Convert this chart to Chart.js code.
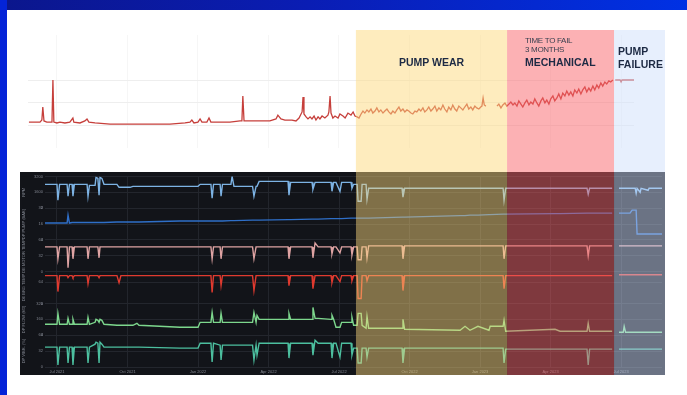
<!DOCTYPE html>
<html>
<head>
<meta charset="utf-8">
<script src="https://cdn.jsdelivr.net/npm/chart.js@4.4.1/dist/chart.umd.min.js"></script>
<style>
  html, body { margin: 0; padding: 0; }
  body { width: 687px; height: 395px; position: relative; overflow: hidden; background: #fff; font-family: "Liberation Sans", Arial, sans-serif; }
  #topBar { position: absolute; left: 0; top: 0; width: 687px; height: 10px; background: linear-gradient(90deg, #0b168c 0%, #0a1db4 45%, #0031e4 100%); }
  #leftBar { position: absolute; left: 0; top: 0; width: 7px; height: 395px; background: #0424d8; }
  #topWrap { position: absolute; left: 20px; top: 30px; width: 645px; height: 142px; }
  #bottomWrap { position: absolute; left: 20px; top: 172px; width: 645px; height: 203px; background: #121419; }
  .big { position: absolute; color: #1d2a44; font-weight: bold; font-size: 10.5px; line-height: 1; white-space: nowrap; }
  .small { position: absolute; color: #3a4150; font-size: 8px; line-height: 1; letter-spacing: -0.3px; white-space: nowrap; }
</style>
</head>
<body>
<div id="topBar"></div>
<div id="leftBar"></div>
<div id="topWrap"><canvas id="topChart"></canvas></div>
<div id="bottomWrap"><canvas id="bottomChart"></canvas></div>

<div class="big" style="left:356px; width:151px; text-align:center; top:57px;">PUMP WEAR</div>
<div class="small" style="left:525px; top:37px;">TIME TO FAIL</div>
<div class="small" style="left:525px; top:46px;">3 MONTHS</div>
<div class="big" style="left:525px; top:57px;">MECHANICAL</div>
<div class="big" style="left:618px; top:46px;">PUMP</div>
<div class="big" style="left:618px; top:59px;">FAILURE</div>

<script>
// x unit: months from Jul 2021
const quarterLabels = ['Jul 2021', 'Oct 2021', 'Jan 2022', 'Apr 2022', 'Jul 2022', 'Oct 2022', 'Jan 2023', 'Apr 2023', 'Jul 2023'];

// phases (months)
const phaseNames = ['Pump wear', 'Mechanical', 'Pump failure'];
const phaseStart = [12.72, 19.15, 23.70];
const phaseEnd = [19.15, 23.70, 25.87];

// top trend (month, level)
const topTrend = [
  [-1.19, 1.13], [-0.72, 1.13], [-0.64, 1.22], [-0.60, 1.8], [-0.55, 1.18], [-0.43, 1.13], [-0.21, 1.13], [-0.17, 3.0], [-0.13, 1.13], [0, 1.09],
  [0.13, 1.13], [0.34, 1.09], [0.55, 1.13], [0.68, 1.31], [0.72, 1.13], [0.98, 1.09], [1.19, 1.18], [1.28, 1.27], [1.36, 1.13], [1.62, 1.09],
  [2.26, 1.04], [3.11, 1.04], [3.96, 1.04], [4.81, 1.04], [5.45, 1.09], [5.66, 1.13], [5.74, 1.22], [5.83, 1.09], [6.00, 1.13], [6.09, 1.27],
  [6.17, 1.13], [6.38, 1.13], [6.47, 1.31], [6.55, 1.13], [6.94, 1.13], [7.36, 1.13], [7.79, 1.18], [7.87, 1.18], [7.91, 2.29], [7.96, 1.18],
  [8.21, 1.18], [8.64, 1.18], [9.06, 1.18], [9.32, 1.27], [9.40, 1.44], [9.53, 1.27], [9.70, 1.22], [10.00, 1.22], [10.17, 1.18], [10.30, 1.31],
  [10.43, 1.58], [10.47, 2.24], [10.51, 1.49], [10.60, 1.36], [10.68, 1.27], [10.77, 1.36], [10.85, 1.27], [10.94, 1.40], [11.02, 1.22], [11.11, 1.36],
  [11.19, 1.27], [11.28, 1.40], [11.40, 1.31], [11.53, 1.44], [11.57, 1.58], [11.62, 2.29], [11.66, 1.53], [11.74, 1.31], [11.83, 1.40], [11.96, 1.31],
  [12.04, 1.49], [12.17, 1.40], [12.26, 1.31], [12.38, 1.53], [12.51, 1.44], [12.60, 1.58], [12.68, 1.40], [12.77, 1.36], [12.85, 1.31], [12.94, 1.49],
  [13.02, 1.62], [13.10, 1.53], [13.19, 1.67], [13.27, 1.58], [13.36, 1.71], [13.44, 1.53], [13.53, 1.62], [13.61, 1.76], [13.70, 1.58], [13.78, 1.67],
  [13.87, 1.53], [13.95, 1.62], [14.04, 1.71], [14.12, 1.58], [14.21, 1.49], [14.29, 1.62], [14.38, 1.53], [14.46, 1.67], [14.55, 1.80], [14.63, 1.62],
  [14.72, 1.71], [14.80, 1.58], [14.89, 1.67], [14.97, 1.62], [15.06, 1.53], [15.14, 1.49], [15.23, 1.62], [15.31, 1.58], [15.40, 1.71], [15.48, 1.62],
  [15.57, 1.76], [15.65, 1.58], [15.74, 1.67], [15.82, 1.80], [15.91, 1.62], [15.99, 1.71], [16.08, 1.84], [16.16, 1.62], [16.25, 1.76], [16.33, 1.67],
  [16.42, 1.89], [16.50, 1.71], [16.59, 1.58], [16.67, 1.80], [16.76, 1.67], [16.84, 1.89], [16.93, 1.71], [17.01, 1.62], [17.10, 1.84], [17.18, 1.76],
  [17.27, 1.67], [17.35, 1.80], [17.44, 1.93], [17.52, 1.71], [17.61, 1.80], [17.69, 1.67], [17.78, 1.84], [17.86, 1.76], [17.95, 1.71], [18.03, 1.80],
  [18.08, 1.84], [18.13, 2.20], [18.18, 1.89], [18.25, 1.84], [18.50, null], [18.72, 1.84], [18.80, 1.93], [18.89, 1.76], [18.97, 1.89], [19.06, 1.98],
  [19.14, 1.84], [19.23, 1.93], [19.31, 2.02], [19.40, 1.89], [19.48, 1.98], [19.57, 1.84], [19.65, 2.07], [19.74, 1.93], [19.82, 1.80], [19.91, 1.98],
  [19.99, 2.11], [20.08, 1.89], [20.16, 2.02], [20.25, 1.93], [20.33, 2.16], [20.42, 1.98], [20.50, 1.84], [20.59, 2.07], [20.67, 2.20], [20.76, 1.98],
  [20.84, 2.11], [20.93, 1.93], [21.01, 2.16], [21.10, 2.29], [21.18, 2.07], [21.27, 2.20], [21.35, 2.38], [21.44, 2.16], [21.52, 2.42], [21.61, 2.29],
  [21.69, 2.51], [21.78, 2.33], [21.86, 2.47], [21.95, 2.29], [22.03, 2.56], [22.12, 2.42], [22.20, 2.60], [22.29, 2.38], [22.37, 2.56], [22.46, 2.69],
  [22.54, 2.47], [22.63, 2.64], [22.71, 2.51], [22.80, 2.73], [22.88, 2.56], [22.97, 2.78], [23.05, 2.64], [23.14, 2.87], [23.22, 2.73], [23.31, 2.91],
  [23.39, 2.82], [23.48, 2.96], [23.56, 2.91], [23.65, 3.0], [23.68, null], [23.75, 3.0], [23.96, 3.0], [24.00, 2.91], [24.04, 3.0], [24.55, 3.0]
];

// bottom panel: shared sample times (months)
const t = [
  -0.51, 0, 0.04, 0.11, 0.43, 0.47, 0.53, 0.64, 0.68, 0.74,
  1.28, 1.32, 1.38, 1.62, 1.66, 1.74, 1.79, 1.83, 1.91, 2.00,
  2.55, 2.64, 2.72, 3.11, 3.23, 3.40, 3.49, 5.23, 6.00, 6.09,
  6.55, 6.60, 6.66, 6.94, 6.98, 7.04, 7.40, 7.45, 7.53, 8.32,
  8.38, 8.47, 8.51, 8.60, 9.83, 9.87, 9.94, 10.85, 10.89, 10.98,
  11.11, 11.66, 11.70, 11.77, 11.87, 12.04, 12.11, 12.51, 12.55, 12.62,
  12.77, 12.81, 12.94, 12.98, 13.15, 13.19, 13.26, 14.68, 14.72, 14.79,
  17.15, 17.36, 17.57, 17.91, 18.38, 18.43, 18.98, 19.02, 19.09, 21.19,
  21.40, 22.55, 22.60, 22.66, 23.62, 23.76, 23.91, 24.09, 24.13, 24.19,
  24.38, 24.47, 24.60, 24.64, 24.68, 24.81, 24.85, 25.15, 25.19, 25.74
];

const speed = [
  2400, 2400, 800, 2400, 2400, 1200, 2400, 2400, 1200, 2400,
  2400, 1200, 2300, 2300, 3100, 3000, 1300, 3100, 3000, 2400,
  2400, 2100, 2100, 2100, 2200, 2200, 2200, 2200, 2200, 2400,
  2400, 1000, 2400, 2400, 1200, 2400, 2400, 3200, 2200, 2200,
  1200, 2200, 2200, 2700, 2700, 1300, 2600, 2600, 1900, 2600,
  2600, 2600, 1700, 2600, 2600, 1700, 2600, 2600, 2000, 2400,
  2400, 700, 700, 2400, 2400, 900, 2000, 2000, 1100, 2000,
  2000, 2000, 2000, 2000, 2000, 2000, 2000, 800, 2000, 2000,
  2000, 2000, 1400, 2000, 2000, null, 2000, 2000, 2000, 2000,
  2000, 2000, 2000, 1500, 2000, 1600, 2000, 1800, 2000, 2000
];

const pressure = [
  17, 17, 17, 17, 17, 25, 17, 17.5, 17.5, 17.5,
  17.5, 17.5, 17.5, 17.5, 17.5, 17.5, 17.5, 17.5, 17.5, 17.5,
  18, 18, 18, 18, 18, 18, 18, 19, 19, 19,
  19, 19, 19, 19, 19, 19, 19.5, 19.5, 19.5, 20,
  20, 20, 20, 20, 20.5, 20.5, 20.5, 21, 21, 21,
  21, 21.5, 21.5, 21.5, 21.5, 21.5, 21.5, 22, 22, 22,
  22, 22, 22, 22, 22, 22, 22, 23, 23, 23,
  24.5, 24.5, 25, 25, 25.5, 25.5, 26, 26, 26, 26.5,
  26.5, 27, 27, 27, 27, null, 27, 27, 27, 27,
  27, 30, 30, 30, 6, 6, 6, 6, 6, 6
];

const motorTemp = [
  50, 50, 26, 50, 50, 8, 50, 50, 26, 50,
  50, 26, 50, 50, 50, 50, 28, 50, 50, 50,
  50, 50, 50, 50, 50, 50, 50, 50, 50, 50,
  50, 26, 50, 50, 26, 50, 50, 50, 50, 50,
  26, 50, 50, 50, 50, 26, 50, 50, 28, 58,
  50, 50, 36, 50, 50, 38, 50, 50, 34, 50,
  50, 24, 24, 50, 50, 28, 52, 52, 26, 52,
  52, 52, 52, 52, 52, 52, 52, 26, 52, 52,
  52, 52, 32, 52, 52, null, 52, 52, 52, 52,
  52, 52, 52, 52, 52, 52, 52, 52, 52, 52
];

const bearingTemp = [
  84, 84, 36, 84, 84, 78, 84, 84, 78, 84,
  84, 60, 84, 84, 84, 84, 78, 84, 84, 84,
  84, 63, 84, 84, 84, 84, 84, 84, 84, 84,
  84, 33, 84, 84, 54, 84, 84, 84, 84, 84,
  39, 84, 84, 84, 84, 54, 84, 84, 45, 84,
  84, 84, 63, 84, 84, 66, 84, 84, 69, 84,
  84, 15, 15, 84, 84, 69, 84, 84, 39, 84,
  84, 84, 84, 84, 84, 84, 84, 45, 84, 84,
  84, 84, 84, 84, 84, null, 87, 87, 87, 87,
  87, 87, 87, 87, 87, 87, 87, 87, 87, 87
];

const flow = [
  110, 110, 220, 110, 110, 170, 110, 110, 160, 110,
  110, 180, 110, 130, 160, 150, 130, 160, 150, 110,
  100, 100, 100, 100, 100, 120, 100, 80, 80, 130,
  130, 230, 130, 130, 220, 130, 130, 130, 130, 130,
  230, 130, 200, 160, 160, 220, 160, 160, 280, 170,
  170, 160, 200, 160, 80, 80, 130, 130, 180, 100,
  100, 220, 220, 100, 70, 190, 70, 70, 160, 60,
  50, 90, 50, 90, 50, 90, 90, 150, 40, 60,
  40, 40, 120, 40, 40, null, 30, 30, 90, 30,
  30, 30, 30, 30, 30, 30, 30, 30, 30, 30
];

const vibration = [
  40, 40, 4, 40, 40, 8, 40, 40, 4, 40,
  40, 8, 40, 46, 50, 48, 8, 50, 46, 40,
  40, 40, 40, 40, 40, 40, 40, 38, 38, 48,
  48, 10, 48, 44, 14, 44, 44, 44, 44, 44,
  14, 44, 24, 48, 48, 18, 48, 48, 24, 54,
  48, 48, 18, 48, 48, 20, 48, 48, 24, 38,
  38, 8, 8, 38, 38, 20, 38, 38, 8, 38,
  38, 38, 38, 38, 38, 38, 38, 8, 36, 36,
  36, 36, 4, 36, 36, null, 36, 36, 36, 36,
  36, 36, 36, 36, 36, 36, 36, 36, 36, 36
];

// band overlay drawn through the x scale
const bandColors = ['rgb(253,217,126)', 'rgb(250,100,105)', 'rgb(208,223,252)'];
const phaseBands = {
    id: 'phaseBands',
    afterDatasetsDraw(chart, args, opts) {
        const xs = chart.scales.x;
        const ctx = chart.ctx;
        ctx.save();
        ctx.globalAlpha = opts.alpha;
        phaseStart.forEach((s, i) => {
            const x0 = xs.getPixelForValue(s);
            const x1 = xs.getPixelForValue(phaseEnd[i]);
            ctx.fillStyle = bandColors[i];
            ctx.fillRect(x0, 0, x1 - x0, chart.height);
        });
        ctx.restore();
    }
};

const isQuarter = v => Math.abs(v / 3 - Math.round(v / 3)) < 1e-6;

// top chart
new Chart(document.getElementById('topChart'), {
    type: 'line',
    data: {
        datasets: [{
            data: topTrend.map(p => ({ x: p[0], y: p[1] })),
            borderColor: '#c63f3b',
            borderWidth: 1.3,
            pointRadius: 0,
            tension: 0,
            spanGaps: false
        }]
    },
    options: {
        responsive: true,
        maintainAspectRatio: false,
        animation: false,
        layout: { padding: { left: 8, right: 31, top: 5, bottom: 24.5 } },
        plugins: { legend: { display: false }, tooltip: { enabled: false }, phaseBands: { alpha: 0.5 } },
        scales: {
            x: {
                type: 'linear', min: -1.23, max: 24.55,
                border: { display: false },
                grid: { drawTicks: false, color: c => isQuarter(c.tick.value) ? '#f6f6f6' : 'rgba(0,0,0,0)' },
                ticks: { display: false, stepSize: 3, includeBounds: false }
            },
            y: {
                min: 0, max: 5,
                border: { display: false },
                grid: { drawTicks: false, color: c => [1, 2, 3].includes(c.tick.value) ? '#eeeeee' : 'rgba(0,0,0,0)' },
                ticks: { display: false, stepSize: 1 }
            }
        }
    },
    plugins: [phaseBands]
});

// bottom chart: six stacked rows
function rowAxis(title, max, step) {
    return {
        type: 'linear', position: 'left', stack: 'rows', stackWeight: 1,
        min: 0, max: max,
        afterFit: a => { a.width = 25; },
        border: { display: false },
        grid: { color: '#23262d', drawTicks: false },
        ticks: { stepSize: step, color: '#80858f', font: { size: 4 }, padding: 2, callback: v => v },
        title: { display: true, text: title, color: '#80858f', font: { size: 4 }, padding: 1 }
    };
}

const rows = [
    { key: 'r1', label: 'RPM', values: speed, color: '#7db3e4', max: 3200, step: 800 },
    { key: 'r2', label: 'DP PUMP (BAR)', values: pressure, color: '#2f6fc8', max: 32, step: 8 },
    { key: 'r3', label: 'DE MOTOR TEMP', values: motorTemp, color: '#dea3a3', max: 64, step: 16 },
    { key: 'r4', label: 'DE BRG TEMP', values: bearingTemp, color: '#df3a2f', max: 96, step: 32 },
    { key: 'r5', label: 'DP FLOW (M3)', values: flow, color: '#7dd78d', max: 320, step: 80 },
    { key: 'r6', label: 'DP VIBR. (%)', values: vibration, color: '#4cbf9f', max: 64, step: 16 }
];

const bottomScales = {
    x: {
        type: 'linear', min: -0.51, max: 25.74,
        afterFit: a => { a.height = 8; },
        border: { display: false },
        grid: { drawTicks: false, color: c => isQuarter(c.tick.value) ? '#22252c' : 'rgba(0,0,0,0)' },
        ticks: {
            stepSize: 3, includeBounds: false, autoSkip: false, maxRotation: 0,
            color: '#80858f', font: { size: 4 }, padding: 2,
            callback: v => isQuarter(v) ? (quarterLabels[Math.round(v / 3)] || '') : ''
        }
    }
};
// last defined row is placed at the top of the stack
rows.slice().reverse().forEach(r => { bottomScales[r.key] = rowAxis(r.label, r.max, r.step); });

new Chart(document.getElementById('bottomChart'), {
    type: 'line',
    data: {
        datasets: rows.map(r => ({
            label: r.label,
            yAxisID: r.key,
            data: t.map((m, i) => ({ x: m, y: r.values[i] })),
            borderColor: r.color,
            borderWidth: 1.4,
            pointRadius: 0,
            tension: 0,
            spanGaps: false
        }))
    },
    options: {
        responsive: true,
        maintainAspectRatio: false,
        animation: false,
        layout: { padding: { left: 0, right: 3, top: 3, bottom: 0 } },
        plugins: { legend: { display: false }, tooltip: { enabled: false }, phaseBands: { alpha: 0.47 } },
        scales: bottomScales
    },
    plugins: [phaseBands]
});
</script>
</body>
</html>
